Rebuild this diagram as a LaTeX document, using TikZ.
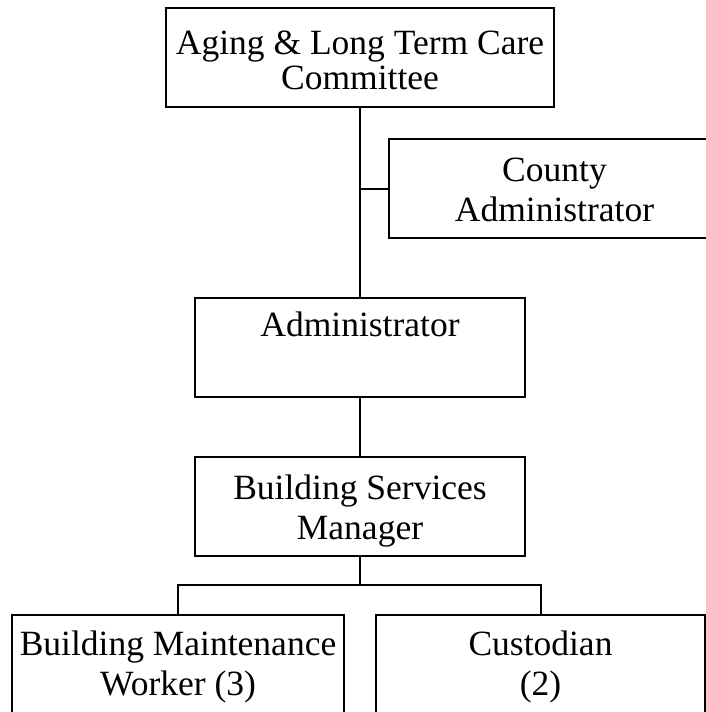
\documentclass[tikz,border=0pt]{standalone}
\usepackage{fontspec}
\setmainfont{Liberation Serif}
\begin{document}
\begin{tikzpicture}[x=1pt,y=-1pt,
  box/.style={draw,line width=2pt,minimum width=#1,minimum height=99pt,inner sep=0pt},
  txt/.style={align=center,font=\fontsize{35.5}{40}\selectfont,inner sep=0pt},
  conn/.style={line width=2pt}]
\path[use as bounding box,clip] (0,0) rectangle (706,712);
% boxes
\node[box=388] (top) at (360,57.5) {};
\node[box=331] (county) at (554.5,188.5) {};
\node[box=330] (admin) at (360,347.5) {};
\node[box=330] (bsm) at (360,506) {};
\node[box=332,minimum height=110pt] (bmw) at (178,670) {};
\node[box=329,minimum height=110pt] (cust) at (540.5,670) {};
% texts
\node[txt,font=\fontsize{35.5}{35}\selectfont] (topt) at (360,60.5) {Aging \& Long Term Care\\Committee};
\node[txt] (countyt) at (554.5,190) {County\\Administrator};
\node[txt,anchor=base] (admint) at (360,336) {Administrator};
\node[txt] (bsmt) at (360,511) {Building Services\\Manager};
\node[txt] (bmwt) at (178,666.5) {Building Maintenance\\Worker (3)};
\node[txt] (custt) at (540.5,666.5) {Custodian\\(2)};
% connectors
\coordinate (j1) at (top.south |- county.west);
\coordinate (j2) at (360,585);
\draw[conn] (top.south) -- (admin.north);
\draw[conn] (j1) -- (county.west);
\draw[conn] (admin.south) -- (bsm.north);
\draw[conn] (bsm.south) -- (j2);
\draw[conn] (bmw.north) |- (j2) -| (cust.north);
\end{tikzpicture}
\end{document}
